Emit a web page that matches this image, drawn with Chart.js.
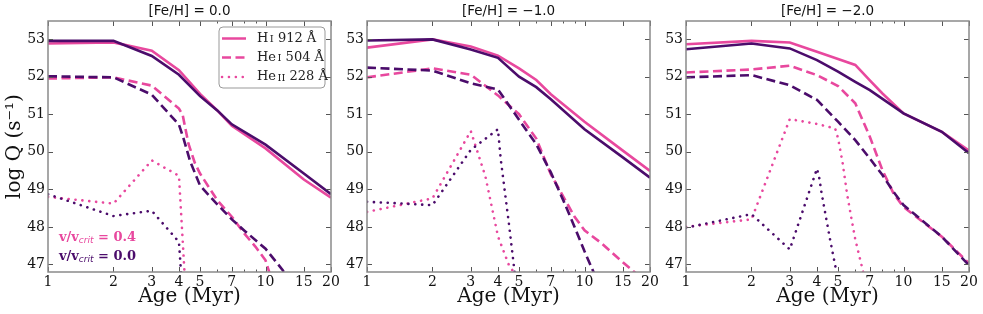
<!DOCTYPE html>
<html>
<head>
<meta charset="utf-8">
<script src="https://cdn.jsdelivr.net/npm/chart.js@4.4.1/dist/chart.umd.min.js"></script>
<style>
  html, body { margin: 0; padding: 0; background: #fff; }
  #wrap { position: relative; width: 983px; height: 314px; overflow: hidden; }
  canvas { position: absolute; top: 0; }
</style>
</head>
<body>
<div id="wrap">
  <canvas id="p0" width="345" height="314" style="left:0px"></canvas>
  <canvas id="p1" width="333" height="314" style="left:331px"></canvas>
  <canvas id="p2" width="333" height="314" style="left:650px"></canvas>
</div>
<script>
// axis ticks
const ageTicks = [1, 2, 3, 4, 5, 7, 10, 15, 20];
const ageMinorTicks = [6, 8, 9];
const logQTicks = [47, 48, 49, 50, 51, 52, 53];
const panelTitles = ['[Fe/H] = 0.0', '[Fe/H] = \u22121.0', '[Fe/H] = \u22122.0'];

// [age (Myr), log Q] -- "rot" = v/vcrit 0.4, "norot" = v/vcrit 0.0
// [Fe/H] = 0.0
const HI_fe0_rot = [[1, 52.88], [2, 52.91], [3, 52.69], [4, 52.17], [5, 51.54], [6, 51.1], [7, 50.69], [10, 50.09], [15, 49.26], [20, 48.78]];
const HI_fe0_norot = [[1, 52.95], [2, 52.95], [3, 52.55], [4, 52.05], [5, 51.48], [6, 51.1], [7, 50.73], [10, 50.19], [15, 49.42], [20, 48.87]];
const HeI_fe0_rot = [[1, 51.95], [2, 51.98], [3, 51.76], [4, 51.15], [4.16, 50.98], [4.42, 50.22], [4.74, 49.69], [5, 49.42], [6, 48.71], [7, 48.27], [8, 47.82], [9, 47.47], [10, 47.11], [10.8, 46.5]];
const HeI_fe0_norot = [[1, 52.01], [2, 51.98], [3, 51.52], [4, 50.72], [4.2, 50.35], [4.5, 49.75], [5, 49.1], [6, 48.6], [7, 48.2], [8, 47.9], [10, 47.42], [12, 46.85], [13, 46.5]];
const HeII_fe0_rot = [[1, 48.8], [2, 48.62], [3, 49.77], [4, 49.36], [4.27, 46.5]];
const HeII_fe0_norot = [[1, 48.87], [2, 48.29], [3, 48.43], [4, 47.6], [4.12, 46.5]];

// [Fe/H] = -1.0
const HI_fe1_rot = [[1, 52.77], [2, 52.99], [3, 52.8], [4, 52.56], [5, 52.22], [6, 51.91], [7, 51.53], [10, 50.8], [15, 50.03], [20, 49.49]];
const HI_fe1_norot = [[1, 52.96], [2, 52.99], [3, 52.72], [4, 52.5], [5, 52.0], [6, 51.72], [7, 51.4], [10, 50.6], [15, 49.85], [20, 49.31]];
const HeI_fe1_rot = [[1, 51.98], [2, 52.22], [3, 52.05], [4, 51.5], [5, 51.0], [6, 50.35], [7, 49.4], [8, 48.8], [9, 48.27], [10, 47.91], [12, 47.56], [15, 47.06], [20, 46.45]];
const HeI_fe1_norot = [[1, 52.24], [2, 52.16], [3, 51.82], [4, 51.66], [5, 50.85], [6, 50.2], [7, 49.45], [8, 48.7], [9, 48.0], [10, 47.35], [11, 46.8], [12, 46.3]];
const HeII_fe1_rot = [[1, 48.4], [2, 48.76], [3, 50.55], [3.5, 49.35], [4, 47.75], [4.5, 46.97], [5, 46.6]];
const HeII_fe1_norot = [[1, 48.67], [2, 48.58], [3, 50.05], [4, 50.6], [4.12, 49.8], [4.3, 48.95], [4.5, 48.05], [4.75, 46.89], [4.9, 46.3]];

// [Fe/H] = -2.0
const HI_fe2_rot = [[1, 52.86], [2, 52.95], [3, 52.91], [4, 52.66], [5, 52.47], [6, 52.31], [7, 51.9], [8, 51.55], [10, 51.02], [15, 50.53], [20, 50.03]];
const HI_fe2_norot = [[1, 52.73], [2, 52.88], [3, 52.75], [4, 52.44], [5, 52.13], [6, 51.86], [7, 51.64], [10, 51.02], [15, 50.53], [20, 49.96]];
const HeI_fe2_rot = [[1, 52.11], [2, 52.19], [3, 52.29], [4, 52.04], [5, 51.75], [6, 51.29], [7, 50.4], [8, 49.51], [9, 48.89], [10, 48.53], [15, 47.74], [20, 47.03]];
const HeI_fe2_norot = [[1, 51.98], [2, 52.04], [3, 51.77], [4, 51.38], [5, 50.8], [6, 50.31], [7, 49.82], [8, 49.38], [9, 48.93], [10, 48.58], [15, 47.74], [20, 46.98]];
const HeII_fe2_rot = [[1, 48.0], [2, 48.2], [3, 50.87], [4, 50.74], [4.85, 50.62], [5, 50.36], [5.25, 49.7], [5.5, 48.88], [5.75, 48.25], [6, 47.67], [6.4, 47.0], [6.7, 46.5]];
const HeII_fe2_norot = [[1, 47.98], [2, 48.34], [3, 47.4], [4, 49.55], [4.1, 49.3], [4.2, 48.9], [4.6, 47.65], [4.9, 46.85], [5.1, 46.3]];

const PINK = '#e8489e';
const PURPLE = '#4b0c6b';
const DASH = [9, 4.5];
const DOT = [0.1, 6.8];

const SERIF = '"DejaVu Serif", serif';
const SANS = '"DejaVu Sans", sans-serif';

// frame with inward ticks on all four sides
const axisFrame = {
	id: 'axisFrame',
	afterDatasetsDraw(chart) {
		const {ctx, chartArea: a, scales: {x, y}} = chart;
		ctx.save();
		ctx.strokeStyle = '#555';
		ctx.lineWidth = 1;
		ctx.beginPath();
		ageTicks.forEach(v => {
			const px = Math.round(x.getPixelForValue(v)) + 0.5;
			ctx.moveTo(px, a.bottom); ctx.lineTo(px, a.bottom - 5);
			ctx.moveTo(px, a.top); ctx.lineTo(px, a.top + 5);
		});
		ageMinorTicks.forEach(v => {
			const px = Math.round(x.getPixelForValue(v)) + 0.5;
			ctx.moveTo(px, a.bottom); ctx.lineTo(px, a.bottom - 2.5);
			ctx.moveTo(px, a.top); ctx.lineTo(px, a.top + 2.5);
		});
		logQTicks.forEach(v => {
			const py = Math.round(y.getPixelForValue(v)) + 0.5;
			ctx.moveTo(a.left, py); ctx.lineTo(a.left + 5, py);
			ctx.moveTo(a.right, py); ctx.lineTo(a.right - 5, py);
		});
		ctx.stroke();
		ctx.strokeStyle = '#8a8a8a';
		ctx.lineWidth = 1.5;
		ctx.strokeRect(a.left, a.top, a.right - a.left, a.bottom - a.top);
		ctx.restore();
	}
};

// legend box and v/vcrit notes (first panel only)
const panelNotes = {
	id: 'panelNotes',
	afterDraw(chart) {
		const {ctx, chartArea: a} = chart;
		ctx.save();
		const bx = a.right - 112, by = a.top + 6, bw = 106, bh = 61;
		ctx.beginPath();
		ctx.roundRect(bx, by, bw, bh, 4);
		ctx.fillStyle = 'rgba(255,255,255,0.85)';
		ctx.fill();
		ctx.strokeStyle = '#999';
		ctx.lineWidth = 1;
		ctx.stroke();

		const rows = [
			{main: 'H', ion: 'I', rest: ' 912 \u00c5', dash: []},
			{main: 'He', ion: 'I', rest: ' 504 \u00c5', dash: DASH},
			{main: 'He', ion: 'II', rest: ' 228 \u00c5', dash: DOT}
		];
		const rowY = [11.5, 30.5, 50];
		rows.forEach((r, i) => {
			const yy = by + rowY[i];
			ctx.beginPath();
			ctx.setLineDash(r.dash);
			ctx.lineCap = r.dash === DOT ? 'round' : 'butt';
			ctx.strokeStyle = PINK;
			ctx.lineWidth = 2.5;
			ctx.moveTo(bx + 3, yy);
			ctx.lineTo(bx + 27, yy);
			ctx.stroke();
			ctx.setLineDash([]);
			ctx.fillStyle = '#222';
			ctx.textBaseline = 'middle';
			let tx = bx + 38;
			ctx.font = '13px ' + SERIF;
			ctx.fillText(r.main, tx, yy);
			tx += ctx.measureText(r.main).width + 1.5;
			ctx.font = '10px ' + SERIF;
			ctx.fillText(r.ion, tx, yy + 1);
			tx += ctx.measureText(r.ion).width;
			ctx.font = '13px ' + SERIF;
			ctx.fillText(r.rest, tx, yy);
		});

		const notes = [{val: ' = 0.4', color: PINK, dy: 34}, {val: ' = 0.0', color: PURPLE, dy: 15}];
		notes.forEach(n => {
			const yy = a.bottom - n.dy;
			let tx = a.left + 11;
			ctx.fillStyle = n.color;
			ctx.textBaseline = 'middle';
			ctx.font = 'bold 13px ' + SERIF;
			ctx.fillText('v/v', tx, yy);
			tx += ctx.measureText('v/v').width;
			ctx.font = 'italic 9px ' + SANS;
			ctx.fillText('crit', tx, yy + 3);
			tx += ctx.measureText('crit').width;
			ctx.font = 'bold 13px ' + SERIF;
			ctx.fillText(n.val, tx, yy);
		});
		ctx.restore();
	}
};

function series(data, color, dash) {
	return {
		data: data,
		borderColor: color,
		backgroundColor: color,
		borderWidth: 2.6,
		borderDash: dash,
		borderCapStyle: dash === DOT ? 'round' : 'butt',
		pointRadius: 0,
		tension: 0,
		fill: false
	};
}

function makePanel(id, idx, sets, first) {
	new Chart(document.getElementById(id), {
		type: 'line',
		data: {
			datasets: [
				series(sets[1], PURPLE, []),
				series(sets[0], PINK, []),
				series(sets[3], PURPLE, DASH),
				series(sets[2], PINK, DASH),
				series(sets[5], PURPLE, DOT),
				series(sets[4], PINK, DOT)
			]
		},
		options: {
			responsive: false,
			animation: false,
			layout: { padding: { left: 0, right: 14, top: 0, bottom: 0 } },
			plugins: {
				legend: { display: false },
				tooltip: { enabled: false },
				title: {
					display: true,
					text: panelTitles[idx],
					fullSize: false,
					color: '#111',
					font: { family: SANS, size: 13.5, weight: 'normal' },
					padding: { top: 3.5, bottom: 1.3 }
				}
			},
			scales: {
				x: {
					type: 'logarithmic',
					min: 1,
					max: 20,
					grid: { display: false, drawTicks: false },
					border: { display: false },
					afterBuildTicks: (s) => { s.ticks = ageTicks.map(v => ({value: v})); },
					afterFit: (s) => { s.height = 42; },
					ticks: {
						autoSkip: false,
						maxRotation: 0,
						padding: 2,
						color: '#111',
						font: { family: SERIF, size: 14 },
						callback: (v) => String(v)
					},
					title: {
						display: true,
						text: 'Age (Myr)',
						color: '#111',
						font: { family: SERIF, size: 20 },
						padding: { top: 0, bottom: 5 }
					}
				},
				y: {
					min: 46.8,
					max: 53.48,
					grid: { display: false, drawTicks: false },
					border: { display: false },
					afterBuildTicks: (s) => { s.ticks = logQTicks.map(v => ({value: v})); },
					afterFit: (s) => { s.width = first ? 48 : 36; },
					ticks: {
						padding: 3,
						color: '#111',
						font: { family: SERIF, size: 14 }
					},
					title: {
						display: first,
						text: 'log Q (s\u207b\u00b9)',
						color: '#111',
						font: { family: SERIF, size: 20 },
						padding: { top: 3, bottom: 0 }
					}
				}
			}
		},
		plugins: first ? [axisFrame, panelNotes] : [axisFrame]
	});
}

document.addEventListener('DOMContentLoaded', function () {
	makePanel('p0', 0, [HI_fe0_rot, HI_fe0_norot, HeI_fe0_rot, HeI_fe0_norot, HeII_fe0_rot, HeII_fe0_norot], true);
	makePanel('p1', 1, [HI_fe1_rot, HI_fe1_norot, HeI_fe1_rot, HeI_fe1_norot, HeII_fe1_rot, HeII_fe1_norot], false);
	makePanel('p2', 2, [HI_fe2_rot, HI_fe2_norot, HeI_fe2_rot, HeI_fe2_norot, HeII_fe2_rot, HeII_fe2_norot], false);
});
</script>
</body>
</html>
